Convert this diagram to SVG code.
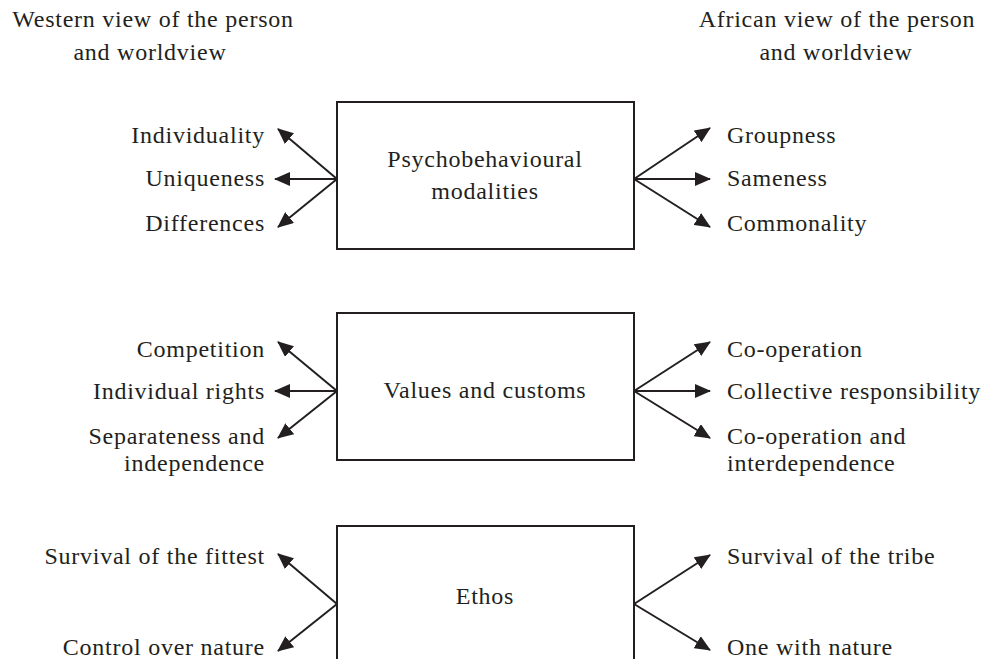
<svg xmlns="http://www.w3.org/2000/svg" width="982" height="659" viewBox="0 0 982 659">
<defs>
<style>
text{font-family:"Liberation Serif","Times New Roman",serif;font-size:24px;letter-spacing:0.75px;fill:#231f20}
.l{text-anchor:end}
.m{text-anchor:middle}
.box{fill:#fff;stroke:#231f20;stroke-width:2}
.a{stroke:#231f20;stroke-width:2;fill:none;marker-end:url(#ah)}
</style>
<marker id="ah" markerUnits="userSpaceOnUse" viewBox="0 0 16 14" refX="15" refY="7" markerWidth="16" markerHeight="14" orient="auto">
<path d="M0,0 L16,7 L0,14 Z" fill="#231f20"/>
</marker>
</defs>
<g id="title-west"><text class="m" x="153" y="27">Western view of the person</text><text class="m" x="150" y="60">and worldview</text></g>
<g id="title-africa"><text class="m" x="837" y="27">African view of the person</text><text class="m" x="836" y="60">and worldview</text></g>

<g id="box1"><rect class="box" x="337" y="102" width="297" height="147"/><text class="m" x="485" y="167">Psychobehavioural</text><text class="m" x="485" y="199">modalities</text></g>
<g id="box2"><rect class="box" x="337" y="313" width="297" height="147"/><text class="m" x="485" y="398">Values and customs</text></g>
<g id="box3"><rect class="box" x="337" y="526" width="297" height="150"/><text class="m" x="485" y="604">Ethos</text></g>

<g id="w1"><text class="l" x="265" y="143">Individuality</text></g>
<g id="w2"><text class="l" x="265" y="186">Uniqueness</text></g>
<g id="w3"><text class="l" x="265" y="231">Differences</text></g>
<g id="w4"><text class="l" x="265" y="357">Competition</text></g>
<g id="w5"><text class="l" x="265" y="399">Individual rights</text></g>
<g id="w6"><text class="l" x="265" y="444">Separateness and</text><text class="l" x="265" y="471">independence</text></g>
<g id="w7"><text class="l" x="265" y="564">Survival of the fittest</text></g>
<g id="w8"><text class="l" x="265" y="655">Control over nature</text></g>

<g id="a1"><text x="727" y="143">Groupness</text></g>
<g id="a2"><text x="727" y="186">Sameness</text></g>
<g id="a3"><text x="727" y="231">Commonality</text></g>
<g id="a4"><text x="727" y="357">Co-operation</text></g>
<g id="a5"><text x="727" y="399">Collective responsibility</text></g>
<g id="a6"><text x="727" y="444">Co-operation and</text><text x="727" y="471">interdependence</text></g>
<g id="a7"><text x="727" y="564">Survival of the tribe</text></g>
<g id="a8"><text x="727" y="655">One with nature</text></g>

<g id="connectors">
<line class="a" x1="337" y1="179" x2="278" y2="129"/>
<line class="a" x1="337" y1="179" x2="275" y2="179"/>
<line class="a" x1="337" y1="179" x2="278" y2="227"/>
<line class="a" x1="634" y1="179" x2="710" y2="128"/>
<line class="a" x1="634" y1="179" x2="710" y2="179"/>
<line class="a" x1="634" y1="179" x2="710" y2="227"/>
<line class="a" x1="337" y1="391" x2="278" y2="342"/>
<line class="a" x1="337" y1="391" x2="275" y2="391"/>
<line class="a" x1="337" y1="391" x2="278" y2="438"/>
<line class="a" x1="634" y1="391" x2="710" y2="342"/>
<line class="a" x1="634" y1="391" x2="710" y2="391"/>
<line class="a" x1="634" y1="391" x2="710" y2="438"/>
<line class="a" x1="337" y1="604" x2="278" y2="554"/>
<line class="a" x1="337" y1="604" x2="278" y2="651"/>
<line class="a" x1="634" y1="604" x2="710" y2="555"/>
<line class="a" x1="634" y1="604" x2="710" y2="650"/>
</g>
</svg>
